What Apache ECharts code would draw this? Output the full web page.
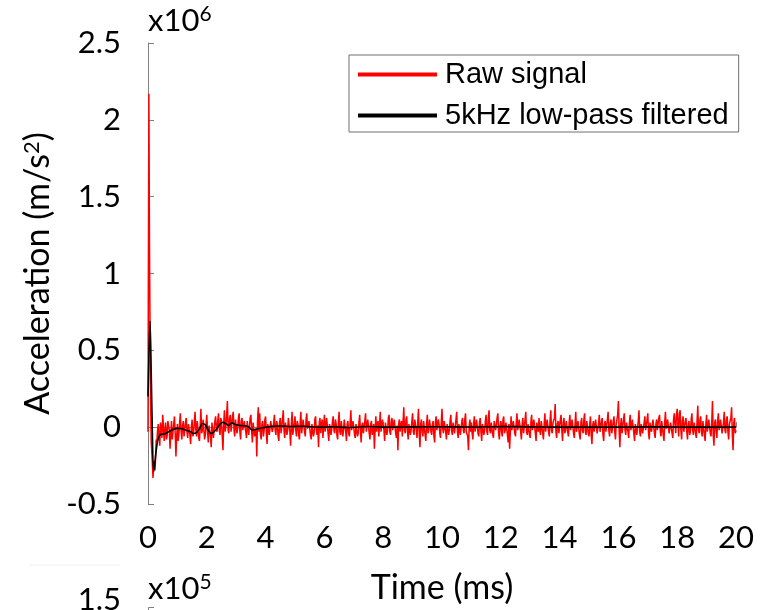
<!DOCTYPE html>
<html>
<head>
<meta charset="utf-8">
<script src="https://cdn.jsdelivr.net/npm/echarts@6/dist/echarts.min.js"></script>
<style>
html,body{margin:0;padding:0;background:#fff;}
#chart{width:777px;height:610px;}
</style>
</head>
<body>
<div id="chart"></div>
<script>
// ---- Data (acceleration in units of 10^6 m/s^2, time in ms) ----
var xTicks = [0, 2, 4, 6, 8, 10, 12, 14, 16, 18, 20];
var yTicks = [-0.5, 0, 0.5, 1, 1.5, 2, 2.5];

// Raw signal: initial impact transient (explicit times)
var rawHeadT = [0, 0.01, 0.03, 0.05, 0.08, 0.11, 0.14, 0.17, 0.2, 0.24, 0.28];
var rawHeadV = [-0.03, 0.8, 2.17, 1.2, 0.3, -0.1, -0.2, -0.33, -0.22, -0.28, -0.08];

// Raw signal: sampled noise after the transient, from 0.3 ms, one value every 0.025 ms (one row = 1 ms)
var noiseT0 = 0.3;
var noiseStep = 0.025;
var rawNoise = [
 -.10, -.02, .02, -.06, -.12, .03, -.01, -.07, .08, .01, -.09, -.03, .03, -.08, -.06, .04, .05, -.02, -.14, -.05, .04, -.08, -.03, .02, .07, -.04, -.19, -.06, .02, -.09, -.05, .03, .09, -.02, -.08, .01, .04, -.06, -.02, .03,
 .06, -.03, -.07, .02, .01, -.05, -.11, .00, .05, -.06, -.04, .03, .10, -.01, -.06, .04, .03, -.07, -.09, .01, .12, -.04, -.02, .05, .06, -.08, -.05, .02, .08, -.03, -.10, .01, .02, -.06, -.13, .03, .04, -.07, -.06, .04,
 .07, -.01, -.03, .05, .09, -.02, -.05, .06, .04, -.06, -.15, .02, .11, -.03, .01, .08, .17, -.02, -.04, .06, .08, -.03, -.02, .07, .10, -.02, -.06, .05, .05, -.04, -.01, .06, .09, -.03, -.08, .04, .06, -.02, -.03, .04,
 .05, -.03, -.07, .04, .03, -.05, -.04, .06, .08, -.02, -.10, .03, .02, -.06, -.05, -.01, -.19, .04, .13, -.03, .09, -.05, -.08, .02, .04, -.06, -.02, .05, .07, -.04, -.11, .02, .03, -.05, -.06, .04, .05, -.03, -.01, .03,
 .08, -.02, -.05, .04, .02, -.06, -.09, .03, .06, -.04, -.03, .05, .11, -.02, -.07, .03, .04, -.05, -.02, .06, .05, -.03, -.12, .01, .10, -.05, -.04, .03, .07, -.02, -.06, .04, .02, -.05, -.08, .03, .10, -.04, -.03, .05,
 .04, -.03, -.06, .05, .09, -.01, -.02, .04, .05, -.05, -.08, .02, .03, -.06, -.04, .05, .07, -.02, -.05, .01, -.13, .03, .06, -.04, .02, .05, -.07, .01, .08, -.03, -.03, .06, .05, -.04, -.09, .02, .03, -.05, -.01, .04,
 .07, -.02, -.04, .05, .02, -.05, -.08, .03, .10, -.03, -.05, .04, .03, -.06, -.02, .05, .06, -.03, -.09, .02, .04, -.04, -.06, .03, .11, -.02, -.03, .04, .05, -.05, -.07, .02, .02, -.06, -.04, .03, .08, -.02, -.10, .01,
 .03, -.04, -.05, .04, .09, -.03, -.02, .05, .06, -.04, -.08, .02, .04, -.05, -.03, .02, -.14, -.02, .07, -.03, .02, .04, -.06, .01, .10, -.03, -.04, .05, .05, -.02, -.09, .03, .03, -.05, -.02, .06, .08, -.03, -.05, .04,
 .06, -.02, -.03, .05, .04, -.04, -.07, .01, -.15, .02, .05, -.03, .02, .04, -.06, .03, .13, -.02, -.04, .05, .07, -.03, -.08, .02, .03, -.05, -.02, .04, .09, -.03, -.05, .05, .04, -.02, -.07, .03, .12, -.04, -.13, .02,
 .05, -.03, -.06, .04, .03, -.05, -.09, .02, .08, -.04, -.02, .05, .06, -.03, -.05, .02, .04, -.06, -.10, .03, .07, -.02, -.03, .05, .02, -.04, -.07, .03, .12, -.01, -.04, .04, .05, -.03, -.08, .02, .03, -.05, -.02, .04,
 .08, -.02, -.05, .03, .04, -.04, -.03, .05, .10, -.03, -.07, .02, .02, -.05, -.06, .04, .06, -.02, -.04, .05, .09, -.03, -.02, -.06, -.15, .01, .05, -.03, .03, -.04, -.08, .02, .07, -.03, -.03, .05, .04, -.04, -.06, .03,
 .06, -.03, -.09, .02, .03, -.05, -.02, .04, .08, -.03, -.05, .06, .11, -.02, -.04, .03, .02, -.05, -.07, .04, .05, -.02, -.03, .06, .09, -.04, -.08, .01, .04, -.03, -.06, .05, .07, -.04, -.02, .03, .03, -.05, -.10, .02,
 -.14, -.03, .07, -.02, -.03, .04, .05, -.04, -.06, .03, .09, -.02, -.02, .05, .04, -.03, -.08, .02, .06, -.04, -.04, .05, .10, -.03, -.05, .02, .03, -.05, -.07, .04, .08, -.02, -.03, .05, .05, -.04, -.09, .03, .02, -.03,
 .06, -.02, -.05, .04, .03, -.04, -.08, .02, .09, -.03, -.02, .05, .05, -.03, -.06, .04, .11, -.02, -.04, .03, .02, .06, .15, -.03, -.07, .02, .04, -.04, -.03, .05, .08, -.02, -.09, .03, .06, -.04, -.02, .04, .05, -.03,
 -.06, .03, .08, -.02, -.03, .05, .04, -.04, -.07, .02, .10, -.03, -.02, .04, .05, -.05, -.08, .03, .06, -.02, -.04, .05, .09, -.03, -.05, .04, .03, -.04, -.06, .02, .07, -.05, -.11, .01, .04, -.03, -.02, .05, .06, -.04,
 -.05, .02, .08, -.03, -.03, .04, .06, -.05, -.09, .02, .04, -.03, -.02, .05, .10, -.02, -.06, .03, .05, -.04, -.04, .04, .07, -.03, -.08, .02, .03, .08, .17, -.02, -.13, .01, .06, -.04, -.03, .05, .09, -.02, -.05, .03,
 .04, -.03, -.07, .03, .08, -.02, -.02, .05, .05, -.04, -.09, .02, .03, -.05, -.04, .04, .11, -.03, -.06, .02, .02, -.04, -.05, .03, .07, -.02, -.03, .05, .09, -.04, -.08, .03, .04, -.03, -.02, .05, .06, -.04, -.07, .02,
 .05, -.02, -.03, .06, .08, -.03, -.06, .04, .04, -.05, -.09, .03, .10, -.01, -.02, .05, .06, -.04, -.05, .03, .03, -.04, -.07, .05, .09, .02, -.04, .08, .12, .03, -.06, .09, .11, -.02, -.08, .04, .07, -.03, -.03, .04,
 .06, -.03, -.08, .02, .04, -.05, -.03, .05, .09, -.02, -.05, .03, .02, -.04, -.07, .04, .14, -.02, -.04, .05, .07, -.03, -.06, .04, .03, -.05, -.09, .02, .08, -.03, -.02, .05, .05, -.04, -.06, .03, .17, -.05, -.12, .03,
 .05, -.03, -.07, .04, .09, -.02, -.03, .05, .06, -.04, -.05, .03, .10, -.02, -.04, .05, .07, -.03, -.08, .02, .04, .06, .13, -.05, -.15, .03, .06, -.04, -.02
];

// 5 kHz low-pass filtered signal
var filtT = [0, 0.03, 0.07, 0.11, 0.15, 0.19, 0.23, 0.28, 0.34, 0.42, 0.55, 0.7, 0.85, 1.0, 1.15, 1.3, 1.45, 1.55, 1.65, 1.75, 1.85, 1.95, 2.05, 2.15, 2.3, 2.45, 2.55, 2.65, 2.75, 2.85, 3.0, 3.2, 3.4, 3.55, 3.7, 3.9, 4.2, 4.5, 4.9, 5.3, 5.8, 6.3, 6.8, 7.5, 8.2, 9, 10, 11, 12, 13, 14, 15, 16, 17, 18, 19, 20];
var filtV = [0.2, 0.45, 0.69, 0.35, -0.05, -0.29, -0.24, -0.15, -0.08, -0.048, -0.045, -0.03, -0.015, -0.008, -0.01, -0.02, -0.03, -0.041, -0.035, -0.01, 0.024, 0.015, -0.02, -0.041, -0.02, 0.02, 0.032, 0.022, 0.011, 0.028, 0.015, 0.01, 0.005, -0.019, -0.012, -0.004, 0.005, 0.008, 0.004, 0.006, 0.0, 0.003, -0.002, 0.004, 0.0, 0.002, 0.003, 0.001, 0.004, 0.002, 0.0, 0.001, 0.0, 0.002, 0.001, 0.0, 0.001];

var seriesNames = ['Raw signal', '5kHz low-pass filtered'];

// ---- Build series data ----
var rawData = rawHeadT.map(function (t, i) { return [t, rawHeadV[i]]; })
  .concat(rawNoise.map(function (v, i) { return [+(noiseT0 + i * noiseStep).toFixed(3), v]; }));
var filtData = filtT.map(function (t, i) { return [t, filtV[i]]; });

var FONT = 'Lato';
var AXIS_COLOR = '#808080';

var chart = echarts.init(document.getElementById('chart'), null, {renderer: 'canvas'});
chart.setOption({
  animation: false,
  backgroundColor: '#ffffff',
  grid: {left: 148, right: 41, top: 43, bottom: 105},
  xAxis: {
    type: 'value',
    min: xTicks[0], max: xTicks[xTicks.length - 1], interval: 2,
    name: 'Time (ms)', nameLocation: 'middle', nameGap: 67,
    nameTextStyle: {fontFamily: FONT, fontSize: 34, color: '#000'},
    axisLine: {show: true, lineStyle: {color: AXIS_COLOR, width: 1}},
    axisTick: {show: true, inside: true, length: 5, lineStyle: {color: AXIS_COLOR}},
    axisLabel: {fontFamily: FONT, fontSize: 31, color: '#000', margin: 18},
    splitLine: {show: false}
  },
  yAxis: {
    type: 'value',
    min: yTicks[0], max: yTicks[yTicks.length - 1], interval: 0.5,
    name: 'Acceleration (m/s{sup|2})', nameLocation: 'middle', nameGap: 90, nameRotate: 90,
    nameTextStyle: {fontFamily: FONT, fontSize: 34, color: '#000',
      rich: {sup: {fontFamily: FONT, fontSize: 22, color: '#000', verticalAlign: 'top', padding: [0, 0, 13, 0]}}},
    axisLine: {show: true, onZero: false, lineStyle: {color: AXIS_COLOR, width: 1}},
    axisTick: {show: true, inside: true, length: 6, lineStyle: {color: AXIS_COLOR}},
    axisLabel: {fontFamily: FONT, fontSize: 31, color: '#000', margin: 27, padding: [0, 0, 6, 0]},
    splitLine: {show: false}
  },
  legend: {
    orient: 'vertical',
    left: 349, top: 55,
    data: seriesNames,
    icon: 'rect', itemWidth: 79, itemHeight: 4, itemGap: 12,
    padding: [5, 10, 2, 9],
    borderColor: '#707070', borderWidth: 1,
    backgroundColor: '#fff',
    textStyle: {fontFamily: 'Liberation Sans', fontSize: 29, color: '#000', lineHeight: 27, padding: [0, 0, 0, 3]}
  },
  graphic: [
    {type: 'text', left: 148, top: 4, z: 10,
     style: {text: 'x10{s|6}', fontFamily: FONT, fontSize: 31, fill: '#000',
       rich: {s: {fontFamily: FONT, fontSize: 21, fill: '#000', verticalAlign: 'top', padding: [0, 0, 12, 0]}}}},
    {type: 'text', left: 148, top: 572, z: 10,
     style: {text: 'x10{s|5}', fontFamily: FONT, fontSize: 31, fill: '#000',
       rich: {s: {fontFamily: FONT, fontSize: 21, fill: '#000', verticalAlign: 'top', padding: [0, 0, 12, 0]}}}},
    {type: 'text', right: 656, top: 584, z: 10,
     style: {text: '1.5', fontFamily: FONT, fontSize: 31, fill: '#000'}},
    {type: 'line', z: 10, shape: {x1: 30, y1: 565, x2: 120, y2: 565}, style: {stroke: '#f0f0f0', lineWidth: 1}},
    {type: 'polyline', z: 10, shape: {points: [[154, 607.5], [148.5, 607.5], [148.5, 611]]}, style: {stroke: AXIS_COLOR, lineWidth: 1, fill: null}}
  ],
  series: [
    {name: seriesNames[0], type: 'line', data: rawData, showSymbol: false, symbol: 'none', sampling: null,
     lineStyle: {color: '#ff0000', width: 1.5, opacity: 1}, itemStyle: {color: '#ff0000'}, z: 2},
    {name: seriesNames[1], type: 'line', data: filtData, showSymbol: false, symbol: 'none', smooth: 0.3,
     lineStyle: {color: '#000000', width: 1.6}, itemStyle: {color: '#000000'}, z: 3}
  ]
});
</script>
</body>
</html>
